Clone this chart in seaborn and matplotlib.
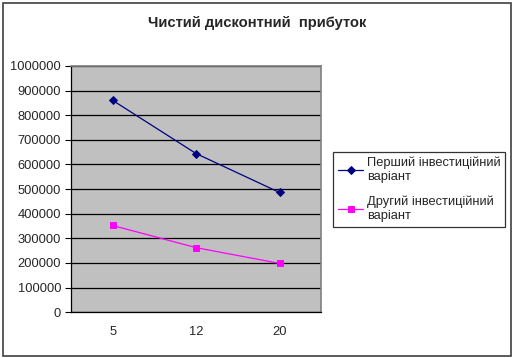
import matplotlib
matplotlib.use("Agg")
import matplotlib.pyplot as plt
import matplotlib.patches as mpatches
import pandas as pd
import seaborn as sns

# data
periods = ["5", "12", "20"]
series_names = ["Перший інвестиційний\nваріант", "Другий інвестиційний\nваріант"]
first_variant = [860000, 644000, 486000]
second_variant = [352000, 262000, 198000]
y_ticks = list(range(0, 1000001, 100000))

df = pd.DataFrame({
    "period": periods * 2,
    "value": first_variant + second_variant,
    "series": [series_names[0]] * 3 + [series_names[1]] * 3,
})

sns.set_theme(style="white")
plt.rcParams["font.family"] = ["Liberation Sans", "DejaVu Sans"]

fig = plt.figure(figsize=(5.14, 3.58), dpi=100)
fig.patch.set_facecolor("white")
ax = fig.add_axes([0.138, 0.128, 0.487, 0.688])
ax.set_facecolor("#c0c0c0")

sns.pointplot(
    data=df, x="period", y="value", hue="series", order=periods,
    hue_order=series_names, palette=["#000080", "#ff00ff"],
    markers=["D", "s"], linestyles=["-", "-"], errorbar=None,
    markersize=4.5, linewidth=0.9, ax=ax,
)

ax.set_ylim(0, 1000000)
ax.set_xlim(-0.5, 2.5)
ax.set_yticks(y_ticks)
ax.set_yticklabels([str(v) for v in y_ticks], fontsize=9.3)
ax.yaxis.grid(True, color="black", linewidth=0.9)
ax.set_axisbelow(True)
ax.set_xticks(range(len(periods)))
ax.set_xticklabels(periods, fontsize=9.3)
ax.set_xticks([-0.5, 0.5, 1.5, 2.5], minor=True)
ax.tick_params(axis="x", which="major", length=0, pad=10)
ax.tick_params(axis="x", which="minor", length=4, width=0.8, color="black", direction="out")
ax.tick_params(axis="y", length=4, width=0.8, color="black", direction="out", left=True, pad=3)
ax.set_xlabel("")
ax.set_ylabel("")
for side in ["left", "bottom"]:
    ax.spines[side].set_color("black")
    ax.spines[side].set_linewidth(0.9)
for side in ["top", "right"]:
    ax.spines[side].set_color("#808080")
    ax.spines[side].set_linewidth(1.2)

handles, labels = ax.get_legend_handles_labels()
ax.get_legend().remove()
leg = fig.legend(
    handles, labels, loc="upper left", bbox_to_anchor=(0.648, 0.575),
    fontsize=9.3, frameon=True, fancybox=False, edgecolor="black",
    handlelength=2.0, labelspacing=1.0, borderpad=0.35, handletextpad=0.25,
    borderaxespad=0,
)
leg.get_frame().set_linewidth(0.9)

fig.text(0.5, 0.937, "Чистий дисконтний  прибуток", ha="center", va="center",
         fontsize=10.6, fontweight="bold")

fig.patches.append(mpatches.Rectangle(
    (0.005, 0.005), 0.99, 0.988, transform=fig.transFigure, fill=False,
    edgecolor="#404040", linewidth=1.2))

fig.savefig("out.png", dpi=100)
